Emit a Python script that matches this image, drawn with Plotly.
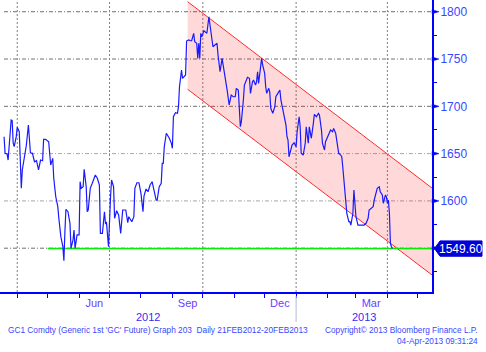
import plotly.graph_objects as go

# ---------------- data ----------------
dates = [
 "2012-03-19","2012-03-20","2012-03-22","2012-03-23","2012-03-26","2012-03-27","2012-03-28","2012-03-29","2012-03-31",
 "2012-04-01","2012-04-03","2012-04-05","2012-04-06","2012-04-08","2012-04-10","2012-04-12","2012-04-14","2012-04-16",
 "2012-04-18","2012-04-20","2012-04-22","2012-04-24","2012-04-26","2012-04-27","2012-04-29",
 "2012-05-02","2012-05-03","2012-05-04","2012-05-06","2012-05-07","2012-05-09","2012-05-11","2012-05-12","2012-05-14",
 "2012-05-16","2012-05-17","2012-05-18","2012-05-19","2012-05-21","2012-05-23","2012-05-24","2012-05-26","2012-05-27",
 "2012-05-28","2012-05-30",
 "2012-06-01","2012-06-02","2012-06-03","2012-06-05","2012-06-06","2012-06-08","2012-06-09","2012-06-10","2012-06-12",
 "2012-06-14","2012-06-17","2012-06-19","2012-06-21","2012-06-22","2012-06-24","2012-06-26","2012-06-27","2012-06-28",
 "2012-06-30",
 "2012-07-02","2012-07-03","2012-07-05","2012-07-06","2012-07-08","2012-07-10","2012-07-12","2012-07-14","2012-07-17",
 "2012-07-19","2012-07-20","2012-07-23","2012-07-25","2012-07-26","2012-07-28","2012-07-30",
 "2012-08-01","2012-08-03","2012-08-04","2012-08-06","2012-08-08","2012-08-10","2012-08-12","2012-08-14","2012-08-16",
 "2012-08-17","2012-08-19","2012-08-21","2012-08-22","2012-08-23","2012-08-24","2012-08-26","2012-08-27","2012-08-29",
 "2012-08-31",
 "2012-09-01","2012-09-02","2012-09-04","2012-09-06","2012-09-07","2012-09-08","2012-09-09","2012-09-10","2012-09-11",
 "2012-09-13","2012-09-14","2012-09-15","2012-09-17","2012-09-19","2012-09-20","2012-09-22","2012-09-23","2012-09-25",
 "2012-09-26","2012-09-27","2012-09-28","2012-09-29","2012-09-30",
 "2012-10-02","2012-10-03","2012-10-05","2012-10-07","2012-10-08","2012-10-09","2012-10-11","2012-10-13","2012-10-15",
 "2012-10-16","2012-10-18","2012-10-20","2012-10-22","2012-10-24","2012-10-25","2012-10-27","2012-10-29","2012-10-31",
 "2012-11-02","2012-11-03","2012-11-05","2012-11-07","2012-11-08","2012-11-10","2012-11-11","2012-11-13","2012-11-14",
 "2012-11-16","2012-11-17","2012-11-19","2012-11-20","2012-11-22","2012-11-23","2012-11-24","2012-11-25","2012-11-27",
 "2012-11-28","2012-11-29",
 "2012-12-01","2012-12-02","2012-12-03","2012-12-05","2012-12-06","2012-12-07","2012-12-09","2012-12-11","2012-12-12",
 "2012-12-14","2012-12-16","2012-12-17","2012-12-19","2012-12-20","2012-12-22","2012-12-23","2012-12-24","2012-12-25",
 "2012-12-27","2012-12-28","2012-12-30",
 "2013-01-01","2013-01-02","2013-01-04","2013-01-05","2013-01-06","2013-01-08","2013-01-10","2013-01-11","2013-01-13",
 "2013-01-14","2013-01-16","2013-01-18","2013-01-19","2013-01-21","2013-01-23","2013-01-24","2013-01-26","2013-01-27",
 "2013-01-29","2013-01-30",
 "2013-02-01","2013-02-03","2013-02-04","2013-02-06","2013-02-07","2013-02-09","2013-02-10","2013-02-12","2013-02-14",
 "2013-02-15","2013-02-16","2013-02-18","2013-02-19","2013-02-20","2013-02-22","2013-02-23","2013-02-24","2013-02-26",
 "2013-02-27","2013-02-28",
 "2013-03-01","2013-03-03","2013-03-05","2013-03-07","2013-03-09","2013-03-11","2013-03-13","2013-03-14","2013-03-16",
 "2013-03-18","2013-03-19","2013-03-21","2013-03-22","2013-03-24","2013-03-25","2013-03-27","2013-03-28","2013-03-30",
 "2013-03-31",
 "2013-04-01","2013-04-02","2013-04-03","2013-04-04","2013-04-05","2013-04-06",
]
prices = [
 1667.9,1650.3,1649.6,1643.2,1685.5,1684.8,1661.2,1657.3,1667.9,
 1677.8,1673.1,1613.3,1632.7,1646.7,1659.1,1680.2,1650.9,1650.3,
 1641.4,1642.5,1632.7,1643.2,1642.5,1665.1,1665.1,
 1662.6,1650.3,1637.9,1645.0,1623.9,1604.4,1593.9,1581.6,1562.2,
 1551.6,1536.8,1567.4,1591.1,1588.6,1576.3,1549.9,1558.7,1569.2,
 1549.9,1564.0,
 1564.0,1620.3,1613.3,1615.0,1633.4,1615.0,1588.6,1590.4,1613.3,
 1618.6,1627.4,1623.9,1616.8,1565.7,1565.7,1588.6,1576.3,1577.0,
 1551.6,
 1604.4,1622.1,1615.0,1581.6,1589.6,1585.1,1565.7,1590.4,1590.4,
 1577.0,1583.3,1578.0,1583.3,1613.3,1619.2,1619.2,
 1608.0,1588.6,1605.2,1612.6,1609.7,1616.8,1620.3,1611.5,1600.9,
 1600.9,1615.0,1618.6,1639.7,1639.7,1657.3,1671.5,1669.7,1666.2,
 1660.9,
 1655.6,1689.0,1693.2,1692.6,1699.6,1720.7,1730.7,1738.4,1729.6,
 1731.3,1733.1,1769.0,1770.1,1769.3,1769.3,1777.2,1768.3,1766.6,
 1750.7,1766.6,1750.7,1777.2,1773.6,
 1779.9,1778.9,1777.2,1794.7,1785.9,1778.9,1763.0,1764.8,1766.6,
 1754.2,1736.6,1750.7,1738.4,1724.3,1717.2,1701.4,1711.9,1710.1,
 1710.1,1719.0,1717.2,1678.4,1683.7,1706.7,1722.5,1727.8,1730.7,
 1729.6,1713.7,1726.0,1727.8,1722.5,1726.0,1736.6,1724.3,1741.9,
 1750.7,1743.7,
 1734.9,1720.7,1713.7,1719.0,1715.4,1697.9,1692.6,1699.6,1710.1,
 1713.7,1717.2,1706.7,1694.3,1692.6,1680.2,1667.9,1664.4,1646.7,
 1657.3,1659.1,1661.5,
 1657.3,1673.1,1689.0,1678.4,1650.3,1648.5,1660.9,1678.4,1660.9,
 1678.4,1666.2,1682.0,1691.5,1689.0,1692.6,1690.8,1674.9,1660.9,
 1653.8,1662.6,
 1667.9,1671.5,1674.9,1673.1,1676.7,1671.5,1664.4,1650.3,1648.5,
 1646.7,1636.1,1615.0,1604.4,1586.9,1578.0,1578.0,1574.5,1586.9,
 1611.5,1597.5,
 1583.3,1574.5,1574.5,1574.5,1574.5,1576.3,1581.6,1590.4,1592.2,
 1593.9,1600.9,1609.7,1613.3,1615.0,1609.7,1606.2,1597.5,1606.2,
 1604.4,
 1597.5,1600.9,1586.9,1555.2,1551.6,1549.6,
]

last_price = 1549.60
support_start = "2012-05-01"

channel_dates = ["2012-09-16", "2013-05-15"]
channel_upper = [1810.6, 1613.6]
channel_lower = [1718.0, 1521.7]

x_range = ["2012-03-15", "2013-05-15"]
y_range = [1503.7, 1812.4]
y_ticks = [1550, 1600, 1650, 1700, 1750, 1800]
y_ticktext = ["", "1600", "1650", "1700", "1750", "1800"]
grid_colors = ["#707070", "#a8a8a8", "#a8a8a8", "#707070", "#707070", "#707070"]
quarter_lines = ["2012-04-01", "2012-07-01", "2012-10-01", "2013-01-01", "2013-04-01"]
month_label_pos = ["2012-06-16", "2012-09-16", "2012-12-16", "2013-03-16"]
month_labels = ["Jun", "Sep", "Dec", "Mar"]
year_label_pos = ["2012-08-08", "2013-03-09"]
year_labels = ["2012", "2013"]
year_sep = "2013-01-01"

footer_left = "GC1 Comdty (Generic 1st 'GC' Future) Graph 203  Daily 21FEB2012-20FEB2013"
footer_right1 = "Copyright\u00a9 2013 Bloomberg Finance L.P."
footer_right2 = "04-Apr-2013 09:31:24"

# ---------------- layout constants ----------------
W, H = 486, 352
PL, PR, PT, PB = 0, 54, 0, 60
pw = W - PL - PR
ph = H - PT - PB
BLUE = "#0000FF"
TXT = "#3848FF"
MTXT = "#6a40ff"
FONT = "Liberation Sans"

fig = go.Figure()

# channel
fig.add_trace(go.Scatter(x=channel_dates, y=channel_upper, mode="lines",
                         line=dict(color="#FF2A2A", width=1), showlegend=False, hoverinfo="skip"))
fig.add_trace(go.Scatter(x=channel_dates, y=channel_lower, mode="lines",
                         line=dict(color="#FF2A2A", width=1), fill="tonexty",
                         fillcolor="rgba(255,0,0,0.15)", showlegend=False, hoverinfo="skip"))
# support line
fig.add_trace(go.Scatter(x=[support_start, x_range[1]], y=[last_price, last_price], mode="lines",
                         line=dict(color="#00EE00", width=1.5), showlegend=False, hoverinfo="skip"))
# price
fig.add_trace(go.Scatter(x=dates, y=prices, mode="lines",
                         line=dict(color="#1a1aff", width=1.2), showlegend=False))

shapes = []
# horizontal gridlines
for v, c in zip(y_ticks, grid_colors):
    shapes.append(dict(type="line", xref="paper", yref="y", x0=4 / pw, x1=1, y0=v, y1=v,
                       line=dict(color=c, width=1, dash="4px,2px,1px,2px"), layer="below"))
# vertical quarterly gridlines
for q in quarter_lines:
    shapes.append(dict(type="line", xref="x", yref="paper", x0=q, x1=q, y0=0, y1=1,
                       line=dict(color="#808080", width=1, dash="2px,2px"), layer="below"))
# triangles at major y ticks
tw = 7 / pw
for v in y_ticks:
    dy = 2.2
    shapes.append(dict(type="path", xref="paper", yref="y",
                       path=f"M 1,{v-dy} L {1+tw},{v} L 1,{v+dy} Z",
                       fillcolor=BLUE, line=dict(color=BLUE, width=0.5)))
# last price box
x_tip = 1 + 2.5 / pw
x_body = 1 + 8 / pw
x_end = 1 + 50 / pw
hh = 8.1
shapes.append(dict(type="path", xref="paper", yref="y",
                   path=(f"M {x_tip},{last_price} L {x_body},{last_price+hh} L {x_end},{last_price+hh} "
                         f"L {x_end},{last_price-hh} L {x_body},{last_price-hh} Z"),
                   fillcolor="#0000D8", line=dict(color="#0000D8", width=1)))
# year separator
shapes.append(dict(type="line", xref="x", yref="paper", x0=year_sep, x1=year_sep,
                   y0=-4 / ph, y1=-30 / ph, line=dict(color="#B8B8D8", width=1)))

annotations = []
annotations.append(dict(xref="paper", yref="y", x=(x_body + x_end) / 2, y=last_price,
                        text=f"{last_price:.2f}", showarrow=False, xanchor="center", yanchor="middle",
                        font=dict(family=FONT, size=12, color="white")))
for p, t in zip(year_label_pos, year_labels):
    annotations.append(dict(xref="x", yref="paper", x=p, y=0, yshift=-25, text=t, showarrow=False,
                            xanchor="center", yanchor="middle",
                            font=dict(family=FONT, size=11, color="#3a2cf0")))
annotations.append(dict(xref="paper", yref="paper", x=6 / pw, y=-(330 - ph) / ph, text=footer_left,
                        showarrow=False, xanchor="left", yanchor="middle",
                        font=dict(family=FONT, size=8.3, color=TXT)))
annotations.append(dict(xref="paper", yref="paper", x=480 / pw, y=-(330 - ph) / ph, text=footer_right1,
                        showarrow=False, xanchor="right", yanchor="middle",
                        font=dict(family=FONT, size=8.3, color=TXT)))
annotations.append(dict(xref="paper", yref="paper", x=480 / pw, y=-(341 - ph) / ph, text=footer_right2,
                        showarrow=False, xanchor="right", yanchor="middle",
                        font=dict(family=FONT, size=8.3, color=TXT)))

fig.update_layout(
    width=W, height=H,
    margin=dict(l=PL, r=PR, t=PT, b=PB, pad=0),
    paper_bgcolor="white", plot_bgcolor="white",
    shapes=shapes, annotations=annotations,
    xaxis=dict(type="date", range=x_range, showgrid=False, zeroline=False,
               showline=True, linecolor=BLUE, linewidth=2,
               tickvals=month_label_pos, ticktext=month_labels, ticks="",
               tickfont=dict(family=FONT, size=11, color=MTXT),
               minor=dict(dtick="M1", tick0="2012-01-01", ticks="outside", ticklen=4,
                          tickcolor=BLUE, tickwidth=1, showgrid=False)),
    yaxis=dict(side="right", range=y_range, showline=True, linecolor=BLUE, linewidth=2,
               tickvals=y_ticks, ticktext=y_ticktext, ticks="outside", ticklen=3, tickcolor=BLUE,
               ticklabelstandoff=1,
               tickfont=dict(family=FONT, size=12, color=TXT),
               showgrid=False, zeroline=False,
               minor=dict(dtick=25, tick0=1525, ticks="outside", ticklen=3, tickcolor=BLUE, showgrid=False)),
)

fig.write_html("out.html")
